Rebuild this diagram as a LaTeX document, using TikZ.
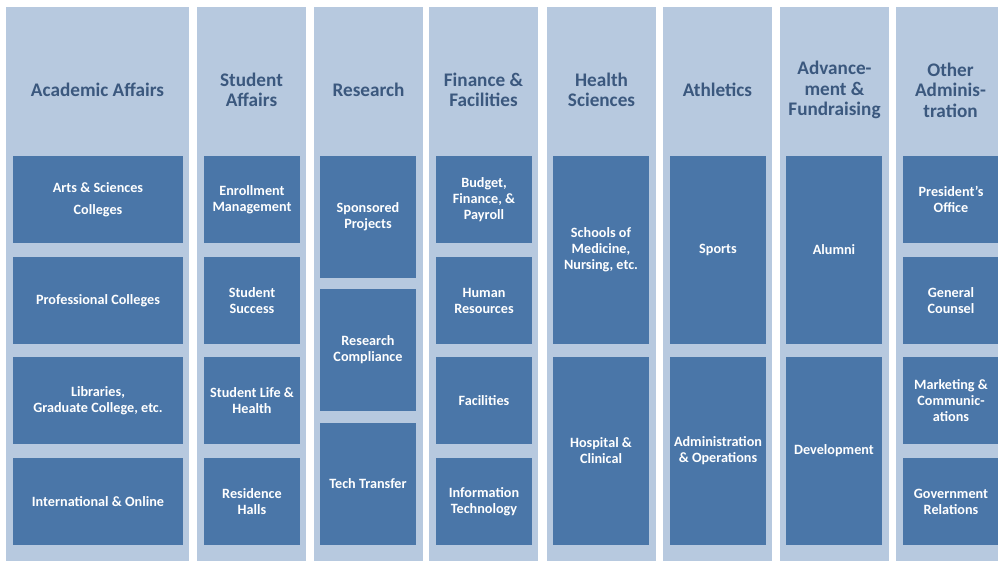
\documentclass[tikz,border=0pt]{standalone}
\usepackage{fontspec}
\setmainfont{Carlito}
\definecolor{colfill}{RGB}{183,201,223}
\definecolor{unitfill}{RGB}{74,118,168}
\definecolor{headtext}{RGB}{59,88,126}

\begin{document}
\begin{tikzpicture}[
        x=1pt, y=-1pt,
        col/.style={fill=colfill, inner sep=0pt, minimum width=109pt, minimum height=555pt},
        unit/.style={fill=unitfill, text=white, inner sep=0pt, align=center,
          minimum width=96pt, font=\bfseries\fontsize{14.2}{16}\selectfont},
        head/.style={text=headtext, align=center, inner sep=0pt,
          font=\bfseries\fontsize{19.2}{20.5}\selectfont}
      ]
      \useasboundingbox (0,0) rectangle (998,560);
      \clip (0,0) rectangle (998,560);
      % columns
      \node (acad) [col, minimum width=183pt] at (97.5,284.5) {};
      \node (stud) [col] at (251.5,284.5) {};
      \node (res) [col] at (368.5,284.5) {};
      \node (fin) [col] at (483.5,284.5) {};
      \node (hlth) [col] at (601.5,284.5) {};
      \node (ath) [col] at (717.5,284.5) {};
      \node (adv) [col] at (834.5,284.5) {};
      \node (oth) [col] at (950.5,284.5) {};
      % headings
      \node (acadH) [head] at (97.5,90) {Academic Affairs};
      \node (studH) [head] at (251.5,90) {Student\\Affairs};
      \node (resH) [head] at (368.5,90) {Research};
      \node (finH) [head] at (483.5,90) {Finance \&\\Facilities};
      \node (hlthH) [head] at (601.5,90) {Health\\Sciences};
      \node (athH) [head] at (717.5,90) {Athletics};
      \node (advH) [head] at (834.5,90) {Advance-\\ment \&\\Fundraising};
      \node (othH) [head] at (950.5,90) {Other\\Adminis-\\tration};
      % academic affairs
      \node (arts) [unit, minimum width=170pt, minimum height=87pt] at (98,199.5) {Arts \& Sciences\\[6pt]Colleges};
      \node (prof) [unit, minimum width=170pt, minimum height=87pt] at (98,300.5) {Professional Colleges};
      \node (libs) [unit, minimum width=170pt, minimum height=87pt] at (98,400.5) {Libraries,\\Graduate College, etc.};
      \node (intl) [unit, minimum width=170pt, minimum height=87pt] at (98,501.5) {International \& Online};
      % student affairs
      \node (enroll) [unit, minimum height=87pt] at (252,199.5) {Enrollment\\Management};
      \node (success) [unit, minimum height=87pt] at (252,300.5) {Student\\Success};
      \node (life) [unit, minimum height=87pt] at (252,400.5) {Student Life \&\\Health};
      \node (halls) [unit, minimum height=87pt] at (252,501.5) {Residence\\Halls};
      % research
      \node (spons) [unit, minimum height=122pt] at (368,217) {Sponsored\\Projects};
      \node (compl) [unit, minimum height=122pt] at (368,350) {Research\\Compliance};
      \node (tech) [unit, minimum height=122pt] at (368,484) {Tech Transfer};
      % finance & facilities
      \node (budget) [unit, minimum height=87pt] at (484,199.5) {Budget,\\Finance, \&\\Payroll};
      \node (hr) [unit, minimum height=87pt] at (484,300.5) {Human\\Resources};
      \node (facil) [unit, minimum height=87pt] at (484,400.5) {Facilities};
      \node (it) [unit, minimum height=87pt] at (484,501.5) {Information\\Technology};
      % health sciences
      \node (med) [unit, minimum height=188pt] at (601,250) {Schools of\\Medicine,\\Nursing, etc.};
      \node (hosp) [unit, minimum height=188pt] at (601,451) {Hospital \&\\Clinical};
      % athletics
      \node (sports) [unit, minimum height=188pt] at (718,250) {Sports};
      \node (admops) [unit, minimum height=188pt] at (718,451) {Administration\\\& Operations};
      % advancement
      \node (alumni) [unit, minimum height=188pt] at (834,250) {Alumni};
      \node (devel) [unit, minimum height=188pt] at (834,451) {Development};
      % other administration
      \node (pres) [unit, minimum height=87pt] at (951,199.5) {President’s\\Office};
      \node (counsel) [unit, minimum height=87pt] at (951,300.5) {General\\Counsel};
      \node (marcom) [unit, minimum height=87pt] at (951,400.5) {Marketing \&\\Communic-\\ations};
      \node (gov) [unit, minimum height=87pt] at (951,501.5) {Government\\Relations};
    \end{tikzpicture}
\end{document}
